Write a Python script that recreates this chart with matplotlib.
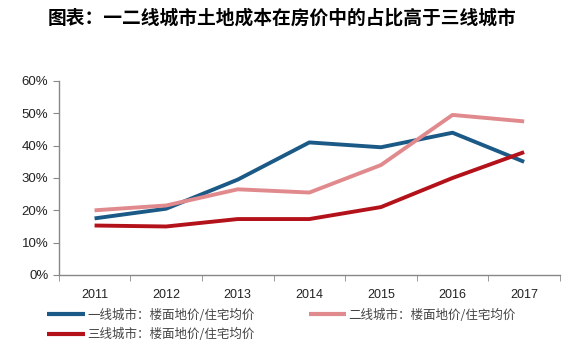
import matplotlib
matplotlib.use("Agg")
import matplotlib.pyplot as plt
from matplotlib.ticker import FixedLocator, PercentFormatter

plt.rcParams['font.family'] = ['Liberation Sans', 'Noto Sans CJK SC', 'DejaVu Sans']

years = ["2011", "2012", "2013", "2014", "2015", "2016", "2017"]
tier1 = [17.5, 20.5, 29.5, 41.0, 39.5, 44.0, 35.0]
tier2 = [20.0, 21.5, 26.5, 25.5, 34.0, 49.5, 47.5]
tier3 = [15.3, 15.0, 17.3, 17.3, 21.0, 30.0, 38.0]
labels = ["一线城市：楼面地价/住宅均价", "二线城市：楼面地价/住宅均价", "三线城市：楼面地价/住宅均价"]
title = "图表：一二线城市土地成本在房价中的占比高于三线城市"

colors = ["#1b5a86", "#e08a8e", "#b4121a"]

fig = plt.figure(figsize=(5.65, 3.44), dpi=100)
ax = fig.add_axes([0.104, 0.2006, 0.887, 0.564])
x = list(range(len(years)))
lines = []
for vals, c, lab in zip([tier1, tier2, tier3], colors, labels):
    l, = ax.plot(x, vals, color=c, lw=2.8, label=lab, solid_capstyle='butt')
    lines.append(l)

ax.set_xlim(-0.5, len(years) - 0.5)
ax.set_ylim(0, 60)
ax.set_yticks(range(0, 61, 10))
ax.yaxis.set_major_formatter(PercentFormatter(decimals=0))
ax.set_xticks(x)
ax.set_xticklabels(years)
ax.xaxis.set_minor_locator(FixedLocator([i + 0.5 for i in range(-1, len(years))]))
ax.tick_params(axis='x', which='major', length=0, pad=10, labelsize=9, colors='#222222')
ax.tick_params(axis='x', which='minor', length=4, color='#888888')
ax.tick_params(axis='y', length=4, color='#888888', labelsize=9.5, labelcolor='#222222')
for s in ['top', 'right']:
    ax.spines[s].set_visible(False)
for s in ['left', 'bottom']:
    ax.spines[s].set_color('#888888')
    ax.spines[s].set_linewidth(1.0)

fig.text(0.5, 0.948, title, ha='center', va='center', fontsize=13.5, fontweight='heavy',
         family=['Noto Sans CJK SC', 'DejaVu Sans'])

order = [0, 2, 1]
leg = fig.legend(handles=[lines[i] for i in order], labels=[labels[i] for i in order],
                 loc='upper left', bbox_to_anchor=(0.075, 0.118),
                 ncol=2, frameon=False, handlelength=3.0, handletextpad=0.2,
                 columnspacing=4.3, labelspacing=0.5, borderaxespad=0,
                 prop={'family': ['Noto Sans CJK SC', 'DejaVu Sans'], 'size': 9})
for t in leg.get_texts():
    t.set_color('#444444')
for lh in leg.get_lines():
    lh.set_linewidth(3)

fig.savefig("out.png", dpi=100)
